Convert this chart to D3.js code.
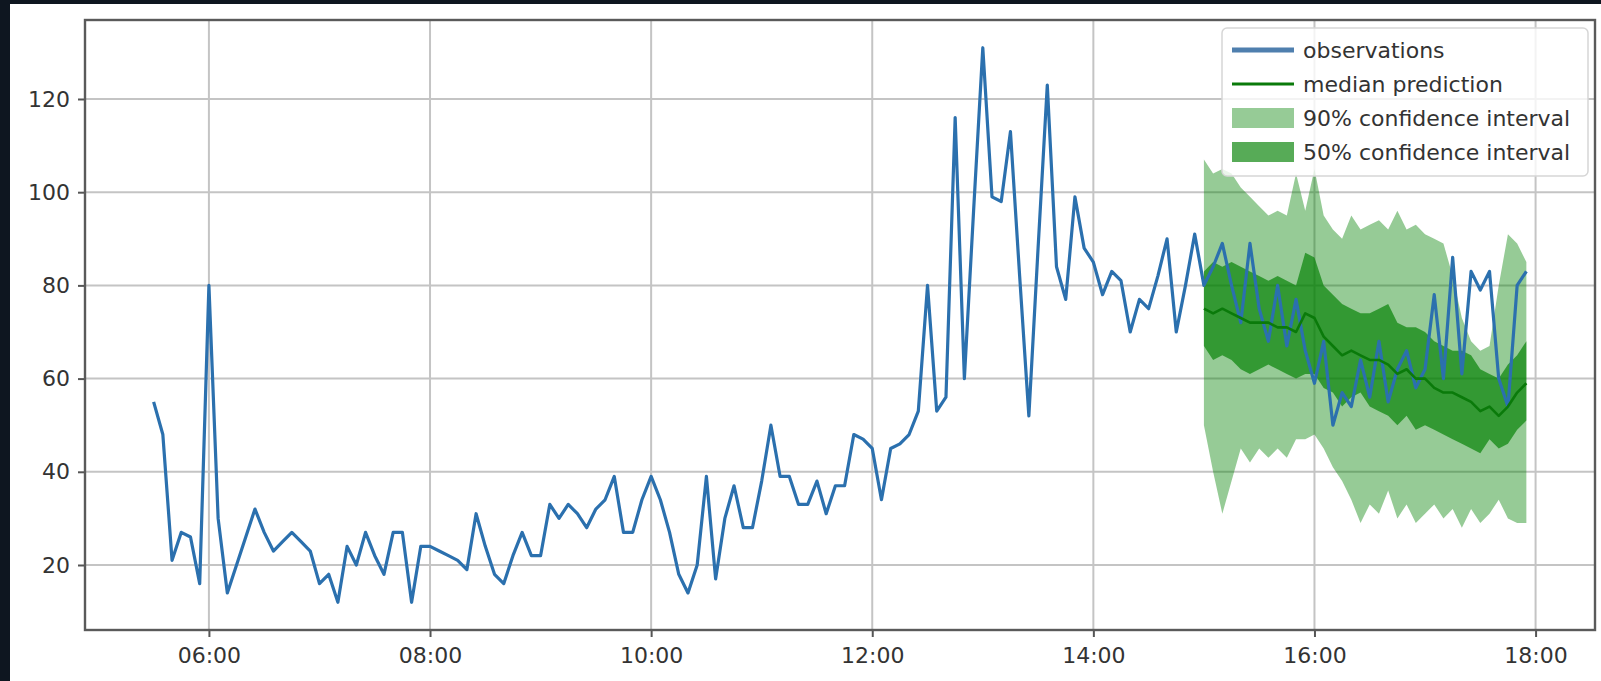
<!DOCTYPE html>
<html>
<head>
<meta charset="utf-8">
<script src="https://cdn.jsdelivr.net/npm/d3@7"></script>
<style>
  html, body { margin: 0; padding: 0; background: #0e1620; }
  svg { display: block; }
</style>
</head>
<body>
<svg id="chart" width="1601" height="681"></svg>
<script>
// Observed series: one value every 5 minutes from 05:30 to 17:55
const seriesStart = "05:30";
const stepMinutes = 5;
const observations = [
  55, 48, 21, 27, 26, 16,                          // 05:30 - 05:55
  80, 30, 14, 20, 26, 32, 27, 23, 25, 27, 25, 23,  // 06:00 - 06:55
  16, 18, 12, 24, 20, 27, 22, 18, 27, 27, 12, 24,  // 07:00 - 07:55
  24, 23, 22, 21, 19, 31, 24, 18, 16, 22, 27, 22,  // 08:00 - 08:55
  22, 33, 30, 33, 31, 28, 32, 34, 39, 27, 27, 34,  // 09:00 - 09:55
  39, 34, 27, 18, 14, 20, 39, 17, 30, 37, 28, 28,  // 10:00 - 10:55
  38, 50, 39, 39, 33, 33, 38, 31, 37, 37, 48, 47,  // 11:00 - 11:55
  45, 34, 45, 46, 48, 53, 80, 53, 56, 116, 60, 96, // 12:00 - 12:55
  131, 99, 98, 113, 82, 52, 88, 123, 84, 77, 99, 88, // 13:00 - 13:55
  85, 78, 83, 81, 70, 77, 75, 82, 90, 70, 80, 91,  // 14:00 - 14:55
  80, 84, 89, 80, 72, 89, 75, 68, 80, 67, 77, 66,  // 15:00 - 15:55
  59, 68, 50, 57, 54, 64, 56, 68, 55, 62, 66, 58,  // 16:00 - 16:55
  62, 78, 60, 86, 61, 83, 79, 83, 60, 54, 80, 83   // 17:00 - 17:55
];

// Probabilistic forecast: 15:00 - 17:55, same 5-minute step
const forecastStart = "15:00";
const median = [
  75, 74, 75, 74, 73, 72, 72, 72, 71, 71, 70, 74,
  73, 69, 67, 65, 66, 65, 64, 64, 63, 61, 62, 60,
  60, 58, 57, 57, 56, 55, 53, 54, 52, 54, 57, 59
];
const lower50 = [
  67, 64, 65, 64, 62, 61, 62, 63, 62, 61, 60, 61,
  61, 58, 57, 54, 56, 57, 54, 53, 52, 50, 52, 49,
  50, 49, 48, 47, 46, 45, 44, 47, 45, 46, 49, 51
];
const upper50 = [
  83, 85, 84, 85, 84, 83, 82, 81, 82, 81, 80, 87,
  86, 80, 78, 76, 75, 74, 74, 75, 76, 72, 71, 71,
  70, 68, 67, 66, 66, 65, 62, 61, 60, 63, 65, 68
];
const lower90 = [
  50, 40, 31, 38, 45, 42, 45, 43, 45, 43, 47, 47,
  48, 45, 41, 38, 34, 29, 33, 31, 36, 30, 33, 29,
  31, 33, 30, 32, 28, 32, 29, 31, 34, 30, 29, 29
];
const upper90 = [
  107, 104, 105, 104, 101, 99, 97, 95, 96, 95, 104, 96,
  105, 95, 92, 90, 95, 92, 93, 94, 92, 96, 92, 93,
  91, 90, 89, 82, 73, 68, 66, 67, 80, 91, 89, 85
];

const yTicks = [20, 40, 60, 80, 100, 120];
const xTickLabels = ["06:00", "08:00", "10:00", "12:00", "14:00", "16:00", "18:00"];
const legendLabels = ["observations", "median prediction", "90% confidence interval", "50% confidence interval"];

const parse = d3.timeParse("%H:%M");
const timeIndex = (start, n) => {
  const t0 = parse(start);
  return d3.range(n).map(i => d3.timeMinute.offset(t0, i * stepMinutes));
};

const obsTimes = timeIndex(seriesStart, observations.length);
const fcTimes = timeIndex(forecastStart, median.length);

const obsData = obsTimes.map((t, i) => ({ t, v: observations[i] }));
const fcData = fcTimes.map((t, i) => ({
  t, med: median[i], lo50: lower50[i], hi50: upper50[i], lo90: lower90[i], hi90: upper90[i]
}));

// Plot frame
const frame = { left: 85, right: 1595, top: 20, bottom: 630 };

// Auto-limits with 5% margins on both axes
const tExt = d3.extent(obsTimes.concat(fcTimes));
const tPad = (tExt[1] - tExt[0]) * 0.05;
const allVals = observations.concat(median, lower50, upper50, lower90, upper90);
const vExt = d3.extent(allVals);
const vPad = (vExt[1] - vExt[0]) * 0.05;

const x = d3.scaleTime()
  .domain([new Date(+tExt[0] - tPad), new Date(+tExt[1] + tPad)])
  .range([frame.left, frame.right]);
const y = d3.scaleLinear()
  .domain([vExt[0] - vPad, vExt[1] + vPad])
  .range([frame.bottom, frame.top]);

const svg = d3.select("#chart");
const FONT = "'DejaVu Sans', sans-serif";
const TEXT = "#333";

// Figure background
svg.append("rect").attr("x", 10).attr("y", 4).attr("width", 1591).attr("height", 677).attr("fill", "#ffffff");

// Grid
const grid = svg.append("g").attr("stroke", "#c4c4c4").attr("stroke-width", 2);
grid.selectAll("line.h").data(yTicks).join("line")
  .attr("x1", frame.left).attr("x2", frame.right)
  .attr("y1", d => y(d)).attr("y2", d => y(d));
grid.selectAll("line.v").data(xTickLabels.map(parse)).join("line")
  .attr("y1", frame.top).attr("y2", frame.bottom)
  .attr("x1", d => x(d)).attr("x2", d => x(d));

// Confidence bands
const band = (lo, hi) => d3.area().x(d => x(d.t)).y0(d => y(d[lo])).y1(d => y(d[hi]));
svg.append("path").datum(fcData).attr("d", band("lo90", "hi90"))
  .attr("fill", "#008000").attr("fill-opacity", 0.41);
svg.append("path").datum(fcData).attr("d", band("lo50", "hi50"))
  .attr("fill", "#008000").attr("fill-opacity", 0.66);

// Observations
svg.append("path").datum(obsData)
  .attr("d", d3.line().x(d => x(d.t)).y(d => y(d.v)))
  .attr("fill", "none").attr("stroke", "#2b70ae").attr("stroke-width", 3.2)
  .attr("stroke-linejoin", "round");

// Median prediction
svg.append("path").datum(fcData)
  .attr("d", d3.line().x(d => x(d.t)).y(d => y(d.med)))
  .attr("fill", "none").attr("stroke", "#0a7a0a").attr("stroke-width", 2.6)
  .attr("stroke-linejoin", "round");

// Axes
const xAxis = d3.axisBottom(x)
  .tickValues(xTickLabels.map(parse))
  .tickFormat(d3.timeFormat("%H:%M"))
  .tickSize(7).tickPadding(10);
const yAxis = d3.axisLeft(y).tickValues(yTicks).tickSize(7).tickPadding(8);

const gx = svg.append("g").attr("transform", `translate(0,${frame.bottom})`).call(xAxis);
const gy = svg.append("g").attr("transform", `translate(${frame.left},0)`).call(yAxis);
[gx, gy].forEach(g => {
  g.select(".domain").remove();
  g.selectAll(".tick line").attr("stroke", "#555").attr("stroke-width", 2);
  g.selectAll(".tick text").attr("fill", TEXT).attr("font-family", FONT).attr("font-size", 22);
});

// Frame
svg.append("rect")
  .attr("x", frame.left).attr("y", frame.top)
  .attr("width", frame.right - frame.left).attr("height", frame.bottom - frame.top)
  .attr("fill", "none").attr("stroke", "#5a5a5a").attr("stroke-width", 2.4);

// Legend
const lg = svg.append("g");
lg.append("rect").attr("x", 1222).attr("y", 28).attr("width", 366).attr("height", 148).attr("rx", 5)
  .attr("fill", "#ffffff").attr("fill-opacity", 0.8).attr("stroke", "#d6d6d6").attr("stroke-width", 1.5);
const rowY = [50, 84, 118, 152];
const hx0 = 1232, hx1 = 1294;
lg.append("line").attr("x1", hx0).attr("x2", hx1).attr("y1", rowY[0]).attr("y2", rowY[0])
  .attr("stroke", "#4f7fae").attr("stroke-width", 5);
lg.append("line").attr("x1", hx0).attr("x2", hx1).attr("y1", rowY[1]).attr("y2", rowY[1])
  .attr("stroke", "#0a7a0a").attr("stroke-width", 3);
lg.append("rect").attr("x", hx0).attr("y", rowY[2] - 10).attr("width", hx1 - hx0).attr("height", 20)
  .attr("fill", "#008000").attr("fill-opacity", 0.41);
lg.append("rect").attr("x", hx0).attr("y", rowY[3] - 10).attr("width", hx1 - hx0).attr("height", 20)
  .attr("fill", "#008000").attr("fill-opacity", 0.66);
lg.selectAll("text").data(legendLabels).join("text")
  .attr("x", 1303).attr("y", (d, i) => rowY[i] + 8)
  .attr("fill", TEXT).attr("font-family", FONT).attr("font-size", 22)
  .text(d => d);
</script>
</body>
</html>
